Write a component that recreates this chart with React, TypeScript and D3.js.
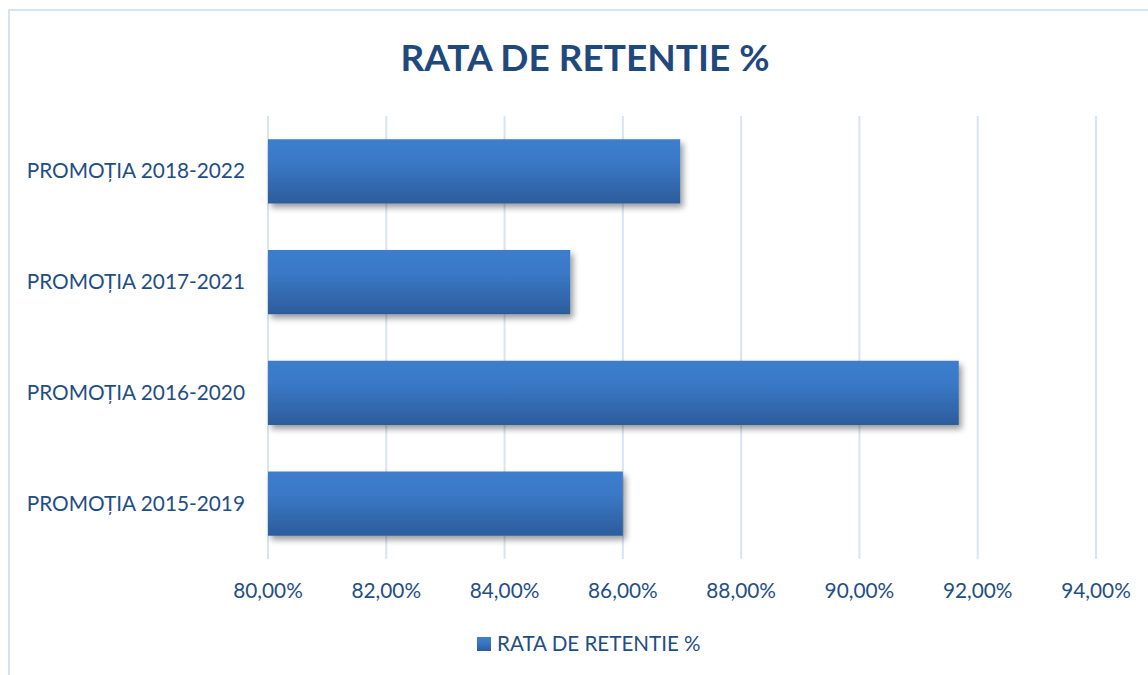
import React from "react";
import * as d3 from "d3";

const categories = [
  "PROMOȚIA 2018-2022",
  "PROMOȚIA 2017-2021",
  "PROMOȚIA 2016-2020",
  "PROMOȚIA 2015-2019",
];
const values = [0.8697, 0.8511, 0.9168, 0.86];
const ticks = [0.8, 0.82, 0.84, 0.86, 0.88, 0.9, 0.92, 0.94];
const title = "RATA DE RETENTIE %";
const seriesName = "RATA DE RETENTIE %";

const W = 1148;
const H = 675;
const FONT = "Lato, 'Open Sans', sans-serif";
const TEXT = "#1F4E86";

export default function App() {
  const x = d3.scaleLinear().domain([0.8, 0.94]).range([268, 1096]);
  const y = d3
    .scaleBand<string>()
    .domain(categories)
    .range([116, 559])
    .paddingInner(0.42)
    .paddingOuter(0.21);
  const fmt = (v: number) => (v * 100).toFixed(2).replace(".", ",") + "%";

  return (
    <svg
      width={W}
      height={H}
      style={{ position: "absolute", left: 0, top: 0, display: "block", background: "#fff" }}
    >
      <defs>
        <linearGradient id="barGrad" x1="0" y1="0" x2="0" y2="1">
          <stop offset="0%" stopColor="#3C7DCD" />
          <stop offset="35%" stopColor="#3A79C7" />
          <stop offset="100%" stopColor="#2C5C9B" />
        </linearGradient>
        <filter id="shadow" x="-10%" y="-20%" width="130%" height="160%">
          <feGaussianBlur in="SourceAlpha" stdDeviation="3" />
          <feOffset dx="3" dy="4" result="ob" />
          <feComponentTransfer>
            <feFuncA type="linear" slope="0.4" />
          </feComponentTransfer>
          <feMerge>
            <feMergeNode />
            <feMergeNode in="SourceGraphic" />
          </feMerge>
        </filter>
      </defs>
      <rect x={9} y={10} width={W + 10} height={H + 10} fill="#fff" stroke="#D5E2F3" strokeWidth={2} />
      <text
        x={585}
        y={71}
        textAnchor="middle"
        fontFamily={FONT}
        fontWeight={700}
        fontSize={37}
        fill="#1F497D"
      >
        {title}
      </text>
      {ticks.map((t) => (
        <line
          key={"g" + t}
          x1={x(t)}
          x2={x(t)}
          y1={116}
          y2={559}
          stroke="#D9E4F2"
          strokeWidth={2}
        />
      ))}
      {categories.map((c, i) => (
        <rect
          key={c}
          x={x(0.8)}
          y={y(c)!}
          width={x(values[i]) - x(0.8)}
          height={y.bandwidth()}
          fill="url(#barGrad)"
          filter="url(#shadow)"
        />
      ))}
      {categories.map((c) => (
        <text
          key={"l" + c}
          x={245}
          y={y(c)! + y.bandwidth() / 2 + 7}
          textAnchor="end"
          fontFamily={FONT}
          fontSize={20.8}
          fill={TEXT}
        >
          {c}
        </text>
      ))}
      {ticks.map((t) => (
        <text
          key={"t" + t}
          x={x(t)}
          y={598}
          textAnchor="middle"
          fontFamily={FONT}
          fontSize={20.8}
          fill={TEXT}
        >
          {fmt(t)}
        </text>
      ))}
      <rect x={477} y={637} width={14} height={14} fill="url(#barGrad)" />
      <text x={497} y={651} fontFamily={FONT} fontSize={20.6} fill={TEXT}>
        {seriesName}
      </text>
    </svg>
  );
}
